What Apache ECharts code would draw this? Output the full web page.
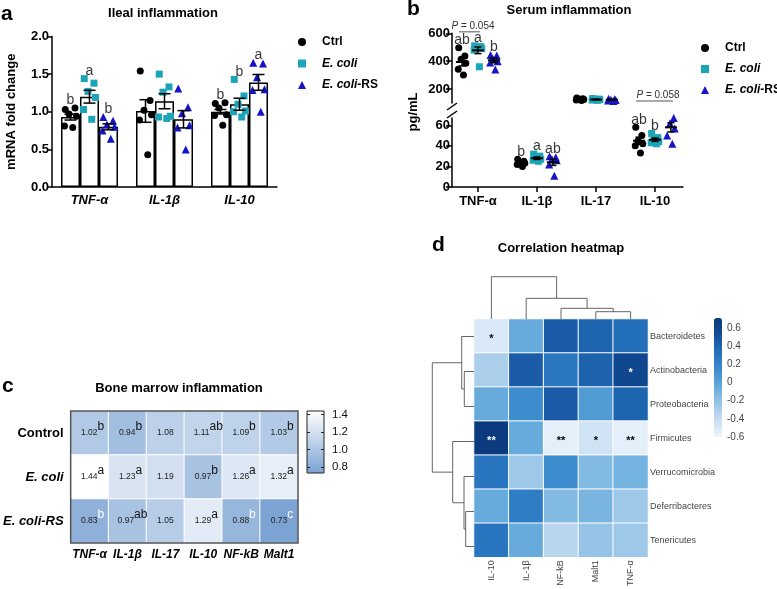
<!DOCTYPE html>
<html><head><meta charset="utf-8">
<script src="https://cdn.jsdelivr.net/npm/echarts@6/dist/echarts.min.js"></script>
<style>html,body{margin:0;padding:0;background:#fff}#c{width:777px;height:589px}</style>
</head><body><div id="c"></div>
<script>
const FONT = '"Liberation Sans", Arial, Helvetica, sans-serif';
const groupNames = ['Ctrl', 'E. coli', 'E. coli-RS'];

// ---------- panel a : ileal inflammation ----------
const aCategories = ['TNF-α', 'IL-1β', 'IL-10'];
const aMeanCtrl  = [0.93, 1.01, 1.00];
const aMeanEcoli = [1.20, 1.14, 1.10];
const aMeanRS    = [0.80, 0.90, 1.39];
const aSemCtrl  = [0.04, 0.15, 0.03];
const aSemEcoli = [0.085, 0.10, 0.08];
const aSemRS    = [0.04, 0.115, 0.105];
const aPointsCtrl  = [[1.03,1.05,0.97,0.94,0.81,0.79],[1.54,1.15,1.02,0.96,0.89,0.43],[1.11,1.12,1.05,0.96,0.95,0.82]];
const aPointsEcoli = [[1.44,1.38,1.27,1.19,1.03,0.90],[1.50,1.33,1.26,0.94,0.93,0.91],[1.43,1.21,1.10,1.01,1.00,0.93]];
const aPointsRS    = [[0.93,0.88,0.83,0.80,0.75,0.64],[1.31,1.06,0.98,0.82,0.79,0.50],[1.65,1.64,1.46,1.30,1.29,1.00]];
const aLettersCtrl  = ['b', '', 'b'];
const aLettersEcoli = ['a', '', 'b'];
const aLettersRS    = ['b', '', 'a'];

// ---------- panel b : serum inflammation ----------
const bCategories = ['TNF-α', 'IL-1β', 'IL-17', 'IL-10'];
const bMeanCtrl  = [394, 23.5, 127, 45];
const bMeanEcoli = [478, 28, 125, 46];
const bMeanRS    = [406, 24, 123, 58];
const bSemCtrl  = [28, 1.0, 3, 3.5];
const bSemEcoli = [24, 1.2, 2, 1.6];
const bSemRS    = [17, 3.0, 3, 4.5];
const bPointsCtrl  = [[496,437,413,386,343,300],[27,25,24,23,22,20],[135,131,128,125,122,118],[58,50,45,42,40,33]];
const bPointsEcoli = [[510,505,495,490,480,360],[32,30,28,27,26,25],[132,128,126,124,121,119],[52,48,46,44,43,42]];
const bPointsRS    = [[445,440,415,400,390,340],[30,29,27,26,22,11],[130,127,124,121,118,115],[70,67,62,57,50,42]];
const bLettersCtrl  = ['ab', 'b', '', 'ab'];
const bLettersEcoli = ['a', 'a', '', 'b'];
const bLettersRS    = ['b', 'ab', '', 'a'];
const bPValues = [{cat: 0, from: 0, to: 1, text: '0.054'}, {cat: 3, from: 0, to: 2, text: '0.058'}];

// ---------- panel c : bone marrow inflammation ----------
const cColumns = ['TNF-α', 'IL-1β', 'IL-17', 'IL-10', 'NF-kB', 'Malt1'];
const cRows = ['Control', 'E. coli', 'E. coli-RS'];
const cValues = [[1.02,0.94,1.08,1.11,1.09,1.03],[1.44,1.23,1.19,0.97,1.26,1.32],[0.83,0.97,1.05,1.29,0.88,0.73]];
const cLetters = [['b','b','','ab','b','b'],['a','a','','b','a','a'],['b','ab','','a','b','c']];
const cScaleTicks = [0.8, 1.0, 1.2, 1.4];

// ---------- panel d : correlation heatmap ----------
const dColumns = ['IL-10', 'IL-1β', 'NF-kB', 'Malt1', 'TNF-α'];
const dRows = ['Bacteroidetes','Actinobacteria','Proteobacteria','Firmicutes','Verrucomicrobia','Deferribacteres','Tenericutes'];
const dValues = [
  [-0.50, -0.05, 0.45, 0.40, 0.35],
  [-0.30, 0.45, 0.28, 0.42, 0.60],
  [-0.05, 0.15, 0.45, 0.05, 0.40],
  [ 0.70, -0.05, -0.55, -0.45, -0.55],
  [ 0.30, -0.25, 0.15, -0.15, -0.10],
  [-0.05, 0.25, -0.15, -0.12, -0.25],
  [ 0.30, -0.05, -0.35, -0.22, -0.25]
];
const dSignif = [
  ['*','','','',''],
  ['','','','','*'],
  ['','','','',''],
  ['**','','**','*','**'],
  ['','','','',''],
  ['','','','',''],
  ['','','','','']
];
const dScaleTicks = [-0.6, -0.4, -0.2, 0, 0.2, 0.4, 0.6];
// hierarchical clustering merges: [childA, childB, height]; ids >= n are earlier merges
const dColLinkage = [[3,4,7.3],[2,5,10.7],[1,6,20.7],[0,7,42.3]];
const dRowLinkage = [[1,2,9.7],[0,7,12.3],[5,6,8.3],[4,9,10],[3,10,21.3],[8,11,41.7]];

// ---------- styles ----------
const gColors = ['#000000', '#1ca4b8', '#1515c6'];
const gSymbols = ['circle', 'rect', 'triangle'];
const gSizes = [7, 7, 8];
const jitter = [-0.07, 0.06, -0.02, 0.08, -0.08, 0.03];

const aMeans = [aMeanCtrl, aMeanEcoli, aMeanRS];
const aSems = [aSemCtrl, aSemEcoli, aSemRS];
const aPts = [aPointsCtrl, aPointsEcoli, aPointsRS];
const aLet = [aLettersCtrl, aLettersEcoli, aLettersRS];
const bMeans = [bMeanCtrl, bMeanEcoli, bMeanRS];
const bSems = [bSemCtrl, bSemEcoli, bSemRS];
const bPts = [bPointsCtrl, bPointsEcoli, bPointsRS];
const bLet = [bLettersCtrl, bLettersEcoli, bLettersRS];

const aOff = [-19/75, 0, 19/75];
const bOff = [-0.27, 0, 0.27];
const isUpper = c => bMeanCtrl[c] > 80;

const series = [];
// a: bars
for (let g = 0; g < 3; g++) {
  series.push({type: 'bar', name: 'bar' + g, xAxisIndex: 0, yAxisIndex: 0, data: aMeans[g],
    barWidth: 19, barGap: '0%', silent: true,
    itemStyle: {color: '#ffffff', borderColor: '#000', borderWidth: 1.5}});
}
function errRender(capHalf, meanHalf) {
  return function (params, api) {
    const x = api.value(0), m = api.value(1), s = api.value(2);
    const t = api.coord([x, m + s]), b = api.coord([x, m - s]), c = api.coord([x, m]);
    const st = {stroke: '#000', lineWidth: 1.5};
    const ch = [
      {type: 'line', shape: {x1: t[0], y1: t[1], x2: b[0], y2: b[1]}, style: st},
      {type: 'line', shape: {x1: t[0] - capHalf, y1: t[1], x2: t[0] + capHalf, y2: t[1]}, style: st},
      {type: 'line', shape: {x1: b[0] - capHalf, y1: b[1], x2: b[0] + capHalf, y2: b[1]}, style: st}
    ];
    if (meanHalf) ch.push({type: 'line', shape: {x1: c[0] - meanHalf, y1: c[1], x2: c[0] + meanHalf, y2: c[1]}, style: {stroke: '#000', lineWidth: 2}});
    return {type: 'group', children: ch};
  };
}
// a: points
for (let g = 0; g < 3; g++) {
  const data = [];
  aPts[g].forEach((arr, c) => arr.forEach((v, i) => data.push([c + aOff[g] + jitter[i % 6], v])));
  series.push({type: 'scatter', name: groupNames[g], xAxisIndex: 1, yAxisIndex: 0, data,
    symbol: gSymbols[g], symbolSize: gSizes[g], itemStyle: {color: gColors[g], opacity: 1}, z: 3});
}
// a: error bars
{
  const data = [];
  for (let g = 0; g < 3; g++) for (let c = 0; c < 3; c++) data.push([c + aOff[g], aMeans[g][c], aSems[g][c]]);
  series.push({type: 'custom', xAxisIndex: 1, yAxisIndex: 0, data, renderItem: errRender(6, 0), z: 4, silent: true});
}
// a: letters
{
  const data = [];
  for (let g = 0; g < 3; g++) for (let c = 0; c < 3; c++) if (aLet[g][c])
    data.push({value: [c + aOff[g], Math.max(...aPts[g][c])], label: {formatter: aLet[g][c]}});
  series.push({type: 'scatter', xAxisIndex: 1, yAxisIndex: 0, data, symbolSize: 1, itemStyle: {color: 'rgba(0,0,0,0)'},
    label: {show: true, position: 'top', distance: 0, fontSize: 14, fontFamily: FONT, color: '#000'}, silent: true, z: 5});
}
// b: points, means, letters
const bUpperErr = [], bLowerErr = [], bUpperLet = [], bLowerLet = [];
for (let g = 0; g < 3; g++) {
  const up = [], lo = [];
  bPts[g].forEach((arr, c) => arr.forEach((v, i) => (isUpper(c) ? up : lo).push([c + bOff[g] + jitter[i % 6] * 0.8, v])));
  series.push({type: 'scatter', name: groupNames[g], xAxisIndex: 2, yAxisIndex: 1, data: up,
    symbol: gSymbols[g], symbolSize: gSizes[g], itemStyle: {color: gColors[g], opacity: 1}, z: 3});
  series.push({type: 'scatter', name: groupNames[g], xAxisIndex: 3, yAxisIndex: 2, data: lo,
    symbol: gSymbols[g], symbolSize: gSizes[g], itemStyle: {color: gColors[g], opacity: 1}, z: 3});
  for (let c = 0; c < 4; c++) {
    (isUpper(c) ? bUpperErr : bLowerErr).push([c + bOff[g], bMeans[g][c], bSems[g][c]]);
    if (bLet[g][c]) (isUpper(c) ? bUpperLet : bLowerLet).push({value: [c + bOff[g], Math.max(...bPts[g][c])], label: {formatter: bLet[g][c]}});
  }
}
series.push({type: 'custom', xAxisIndex: 2, yAxisIndex: 1, data: bUpperErr, renderItem: errRender(3.5, 6), z: 4, silent: true});
series.push({type: 'custom', xAxisIndex: 3, yAxisIndex: 2, data: bLowerErr, renderItem: errRender(3.5, 6), z: 4, silent: true});
const letStyle = {show: true, position: 'top', distance: 0, fontSize: 14, fontFamily: FONT, color: '#000'};
series.push({type: 'scatter', xAxisIndex: 2, yAxisIndex: 1, data: bUpperLet, symbolSize: 1, itemStyle: {color: 'rgba(0,0,0,0)'}, label: letStyle, silent: true, z: 5});
series.push({type: 'scatter', xAxisIndex: 3, yAxisIndex: 2, data: bLowerLet, symbolSize: 1, itemStyle: {color: 'rgba(0,0,0,0)'}, label: letStyle, silent: true, z: 5});
// b: P annotations
function pRender(texts) {
  return function (params, api) {
    const p1 = api.coord([api.value(0), api.value(2)]);
    const p2 = api.coord([api.value(1), api.value(2)]);
    const y = p1[1] - 14;
    return {type: 'group', children: [
      {type: 'line', shape: {x1: p1[0] - 3, y1: y, x2: p2[0] + 2, y2: y}, style: {stroke: '#555', lineWidth: 1}},
      {type: 'text', style: {text: '{i|P} = ' + texts[params.dataIndex], x: (p1[0] + p2[0]) / 2 + 3, y: y - 1,
        align: 'center', verticalAlign: 'bottom', fontSize: 10, fontFamily: FONT, fill: '#333',
        rich: {i: {fontStyle: 'italic', fontSize: 10, fontFamily: FONT, fill: '#333'}}}}
    ]};
  };
}
[true, false].forEach(upper => {
  const list = bPValues.filter(p => isUpper(p.cat) === upper);
  const data = list.map(p => {
    const top = Math.max(...bPts[p.from][p.cat], ...bPts[p.to][p.cat], ...(p.to - p.from > 1 ? bPts[1][p.cat] : []));
    return [p.cat + bOff[p.from], p.cat + bOff[p.to], top];
  });
  series.push({type: 'custom', xAxisIndex: upper ? 2 : 3, yAxisIndex: upper ? 1 : 2, data,
    renderItem: pRender(list.map(p => p.text)), z: 5, silent: true});
});
// c: heatmap
const idxC = series.length;
{
  const data = [];
  cValues.forEach((row, r) => row.forEach((v, c) => {
    const L = cLetters[r][c];
    data.push({value: [c, r, v], label: {offset: [L.length === 2 ? 5 : (L ? 3 : 0), 0]}});
  }));
  series.push({type: 'heatmap', xAxisIndex: 4, yAxisIndex: 3, data,
    itemStyle: {borderColor: '#ffffff', borderWidth: 1},
    label: {show: true, fontFamily: FONT,
      formatter: p => {
        const L = cLetters[p.value[1]][p.value[0]];
        const v = p.value[2].toFixed(2);
        if (!L) return '{v|' + v + '}';
        return '{v|' + v + '}{' + (p.value[2] < 0.9 ? 'w' : 's') + '|' + L + '}';
      },
      rich: {
        v: {fontSize: 8.5, color: '#222', fontFamily: FONT, verticalAlign: 'middle'},
        s: {fontSize: 12, color: '#111', fontFamily: FONT, verticalAlign: 'middle', padding: [0, 0, 12, 0]},
        w: {fontSize: 12, color: '#ffffff', fontFamily: FONT, verticalAlign: 'middle', padding: [0, 0, 12, 0]}
      }},
    emphasis: {disabled: true}});
}
// d: heatmap
const idxD = series.length;
{
  const data = [];
  dValues.forEach((row, r) => row.forEach((v, c) => data.push({value: [c, r, v], label: {color: v > 0.5 ? '#ffffff' : '#000000'}})));
  series.push({type: 'heatmap', xAxisIndex: 6, yAxisIndex: 6, data,
    itemStyle: {borderColor: '#ffffff', borderWidth: 1},
    label: {show: true, fontSize: 11, fontWeight: 'bold', fontFamily: FONT, offset: [0, 3],
      formatter: p => dSignif[p.value[1]][p.value[0]]},
    emphasis: {disabled: true}});
}
// d: dendrograms
function buildDendro(linkage, n) {
  const pos = [], hgt = [], items = [];
  for (let i = 0; i < n; i++) { pos[i] = i; hgt[i] = 0; }
  linkage.forEach((m, k) => {
    const [a, b, h] = m;
    items.push([pos[a], pos[b], hgt[a], hgt[b], h]);
    pos[n + k] = (pos[a] + pos[b]) / 2; hgt[n + k] = h;
  });
  return items;
}
const dendroStyle = {stroke: '#666', lineWidth: 1, fill: 'none'};
series.push({type: 'custom', xAxisIndex: 7, yAxisIndex: 7, data: buildDendro(dColLinkage, dColumns.length), silent: true,
  renderItem: (params, api) => {
    const xa = api.value(0), xb = api.value(1), ha = api.value(2), hb = api.value(3), h = api.value(4);
    return {type: 'polyline', shape: {points: [api.coord([xa, ha]), api.coord([xa, h]), api.coord([xb, h]), api.coord([xb, hb])]}, style: dendroStyle};
  }});
series.push({type: 'custom', xAxisIndex: 8, yAxisIndex: 8, data: buildDendro(dRowLinkage, dRows.length), silent: true,
  renderItem: (params, api) => {
    const ya = api.value(0), yb = api.value(1), ha = api.value(2), hb = api.value(3), h = api.value(4);
    return {type: 'polyline', shape: {points: [api.coord([ha, ya]), api.coord([h, ya]), api.coord([h, yb]), api.coord([hb, yb])]}, style: dendroStyle};
  }});

const blackLine = {show: true, onZero: false, lineStyle: {color: '#000', width: 1.5}};
const boldLab = {color: '#000', fontFamily: FONT, fontWeight: 'bold', fontSize: 13};
const hiddenVal = (extra) => Object.assign({type: 'value', show: false, splitLine: {show: false}, axisLine: {show: false, onZero: false}}, extra);
const legendBase = {
  data: groupNames, orient: 'vertical', itemWidth: 8, itemHeight: 8, selectedMode: false,
  formatter: n => '{sp| }' + (n === 'Ctrl' ? n : (n === 'E. coli' ? '{i|E. coli}' : '{i|E. coli}-RS')),
  textStyle: {fontFamily: FONT, fontSize: 12, fontWeight: 'bold', color: '#000', lineHeight: 14,
    rich: {
      sp: {width: 11, fontSize: 12, lineHeight: 14},
      i: {fontFamily: FONT, fontSize: 12, fontWeight: 'bold', fontStyle: 'italic', color: '#000', lineHeight: 14}
    }}
};

const option = {
  animation: false,
  backgroundColor: '#ffffff',
  textStyle: {fontFamily: FONT},
  legend: [
    Object.assign({}, legendBase, {left: 293, top: 30, itemGap: 7.5}),
    Object.assign({}, legendBase, {left: 696, top: 36, itemGap: 7})
  ],
  grid: [
    {left: 52, top: 36.5, width: 225, height: 150.5},             // 0 a
    {left: 452, top: 33.3, width: 231, height: 69.7},              // 1 b upper
    {left: 452, top: 118.1, width: 231, height: 68.9},             // 2 b lower
    {left: 60, top: 411, width: 238, height: 132, show: true, borderColor: '#555', borderWidth: 1.5, backgroundColor: 'transparent', z: 10}, // 3 c
    {left: 307, top: 411, width: 17, height: 62, show: true, borderColor: '#222', borderWidth: 1, backgroundColor: 'transparent', z: 10}, // 4 c scale
    {left: 474, top: 319, width: 174, height: 245},                // 5 d
    {left: 474, top: 276, width: 174, height: 43},                 // 6 col dendro
    {left: 431, top: 319, width: 43, height: 245},                 // 7 row dendro
    {left: 714, top: 318, width: 8, height: 119}                   // 8 d scale
  ],
  xAxis: [
    {type: 'category', gridIndex: 0, data: aCategories, axisLine: blackLine,
      axisTick: {alignWithLabel: true, length: 5, lineStyle: {color: '#000', width: 1.5}},
      axisLabel: Object.assign({}, boldLab, {fontStyle: 'italic', margin: 7})},
    hiddenVal({gridIndex: 0, min: -0.5, max: 2.5}),
    hiddenVal({gridIndex: 1, min: -0.44, max: 3.475}),
    {type: 'value', gridIndex: 2, min: -0.44, max: 3.475, splitLine: {show: false}, axisLine: blackLine,
      axisTick: {show: true, length: 5, customValues: [0, 1, 2, 3], lineStyle: {color: '#000', width: 1.5}},
      axisLabel: Object.assign({}, boldLab, {margin: 8, customValues: [0, 1, 2, 3], formatter: v => bCategories[Math.round(v)]})},
    {type: 'category', gridIndex: 3, data: cColumns, axisLine: {show: false}, axisTick: {show: false},
      axisLabel: Object.assign({}, boldLab, {fontStyle: 'italic', fontSize: 12, margin: 6, interval: 0})},
    hiddenVal({gridIndex: 4, min: 0, max: 1}),
    {type: 'category', gridIndex: 5, data: dColumns, axisLine: {show: false}, axisTick: {show: false},
      axisLabel: {rotate: 90, fontSize: 9, color: '#444', fontFamily: FONT, margin: 3, interval: 0}},
    hiddenVal({gridIndex: 6, min: -0.5, max: 4.5}),
    hiddenVal({gridIndex: 7, min: 0, max: 43, inverse: true}),
    hiddenVal({gridIndex: 8, min: 0, max: 1})
  ],
  yAxis: [
    {type: 'value', gridIndex: 0, min: 0, max: 2, interval: 0.5, splitLine: {show: false},
      axisLine: blackLine, axisTick: {show: true, length: 5, lineStyle: {color: '#000', width: 1.5}},
      axisLabel: Object.assign({}, boldLab, {margin: 3, formatter: v => v.toFixed(1)}),
      name: 'mRNA fold change', nameLocation: 'middle', nameGap: 34, nameRotate: 90,
      nameTextStyle: {fontFamily: FONT, fontWeight: 'bold', fontSize: 13, color: '#000'}},
    {type: 'value', gridIndex: 1, min: 100, max: 600, splitLine: {show: false},
      axisLine: blackLine,
      axisTick: {show: true, length: 6, customValues: [200, 400, 600], lineStyle: {color: '#000', width: 1.5}},
      axisLabel: Object.assign({}, boldLab, {margin: 2, customValues: [200, 400, 600]})},
    {type: 'value', gridIndex: 2, min: 0, max: 67, splitLine: {show: false},
      axisLine: blackLine,
      axisTick: {show: true, length: 6, customValues: [0, 20, 40, 60], lineStyle: {color: '#000', width: 1.5}},
      axisLabel: Object.assign({}, boldLab, {margin: 2, customValues: [0, 20, 40, 60]})},
    {type: 'category', gridIndex: 3, data: cRows, inverse: true, axisLine: {show: false}, axisTick: {show: false},
      axisLabel: Object.assign({}, boldLab, {margin: 7, interval: 0, formatter: v => v === 'Control' ? v : '{i|' + v + '}',
        rich: {i: {fontFamily: FONT, fontWeight: 'bold', fontStyle: 'italic', fontSize: 13, color: '#000'}}})},
    {type: 'value', gridIndex: 4, position: 'right', min: 0.73, max: 1.44, splitLine: {show: false}, z: 10,
      axisLine: {show: false, onZero: false}, axisTick: {show: true, inside: true, length: 3, customValues: cScaleTicks, lineStyle: {color: '#222'}},
      axisLabel: {customValues: cScaleTicks, formatter: v => v.toFixed(1), fontSize: 11.5, color: '#111', fontFamily: FONT, margin: 8}},
    {type: 'value', gridIndex: 4, position: 'left', min: 0.73, max: 1.44, splitLine: {show: false}, z: 10,
      axisLine: {show: false, onZero: false}, axisTick: {show: true, inside: true, length: 3, customValues: cScaleTicks, lineStyle: {color: '#222'}},
      axisLabel: {show: false}},
    {type: 'category', gridIndex: 5, data: dRows, inverse: true, position: 'right', axisLine: {show: false}, axisTick: {show: false},
      axisLabel: {fontSize: 9, color: '#444', fontFamily: FONT, margin: 2, interval: 0}},
    hiddenVal({gridIndex: 6, min: 0, max: 43}),
    hiddenVal({gridIndex: 7, min: -0.5, max: 6.5, inverse: true}),
    {type: 'value', gridIndex: 8, position: 'right', min: -0.6, max: 0.71, splitLine: {show: false},
      axisLine: {show: false, onZero: false}, axisTick: {show: false},
      axisLabel: {customValues: dScaleTicks, formatter: v => Math.abs(v) < 1e-9 ? '0' : v.toFixed(1), fontSize: 10, color: '#444', fontFamily: FONT, margin: 5}}
  ],
  visualMap: [
    {type: 'continuous', seriesIndex: idxC, dimension: 2, min: 0.73, max: 1.44, calculable: false, hoverLink: false,
      orient: 'vertical', left: 307, top: 411, itemWidth: 17, itemHeight: 62, padding: 0,
      inRange: {color: ['#7ba3d3', '#ffffff']}},
    {type: 'continuous', seriesIndex: idxD, dimension: 2, min: -0.6, max: 0.71, calculable: false, hoverLink: false,
      orient: 'vertical', left: 714, top: 318, itemWidth: 8, itemHeight: 119, padding: 0,
      inRange: {color: ['#eef5fc', '#c8def2', '#98c5e7', '#63a9db', '#3d8cce', '#2470bb', '#13509a', '#0b3a7c']}}
  ],
  graphic: [
    {type: 'text', style: {text: 'a', x: 1, y: 14, verticalAlign: 'middle', font: 'bold 21px ' + FONT, fill: '#000'}},
    {type: 'text', style: {text: 'Ileal inflammation', x: 163, y: 13, align: 'center', verticalAlign: 'middle', font: 'bold 13px ' + FONT, fill: '#000'}},
    {type: 'text', style: {text: 'b', x: 407, y: 9, verticalAlign: 'middle', font: 'bold 21px ' + FONT, fill: '#000'}},
    {type: 'text', style: {text: 'Serum inflammation', x: 569, y: 10, align: 'center', verticalAlign: 'middle', font: 'bold 13px ' + FONT, fill: '#000'}},
    {type: 'text', rotation: Math.PI / 2, x: 413, y: 112, style: {text: 'pg/mL', x: 0, y: 0, align: 'center', verticalAlign: 'middle', font: 'bold 13px ' + FONT, fill: '#000'}},
    {type: 'line', shape: {x1: 447, y1: 110, x2: 457, y2: 103}, style: {stroke: '#000', lineWidth: 1.5}},
    {type: 'line', shape: {x1: 447, y1: 118, x2: 457, y2: 111}, style: {stroke: '#000', lineWidth: 1.5}},
    {type: 'text', style: {text: 'c', x: 2, y: 386, verticalAlign: 'middle', font: 'bold 21px ' + FONT, fill: '#000'}},
    {type: 'text', style: {text: 'Bone marrow inflammation', x: 179, y: 388, align: 'center', verticalAlign: 'middle', font: 'bold 13px ' + FONT, fill: '#000'}},
    {type: 'text', style: {text: 'd', x: 432, y: 245, verticalAlign: 'middle', font: 'bold 21px ' + FONT, fill: '#000'}},
    {type: 'text', style: {text: 'Correlation heatmap', x: 561, y: 248, align: 'center', verticalAlign: 'middle', font: 'bold 13px ' + FONT, fill: '#000'}}
  ],
  series
};
const chart = echarts.init(document.getElementById('c'), null, {renderer: 'canvas'});
chart.setOption(option);
</script>
</body></html>
